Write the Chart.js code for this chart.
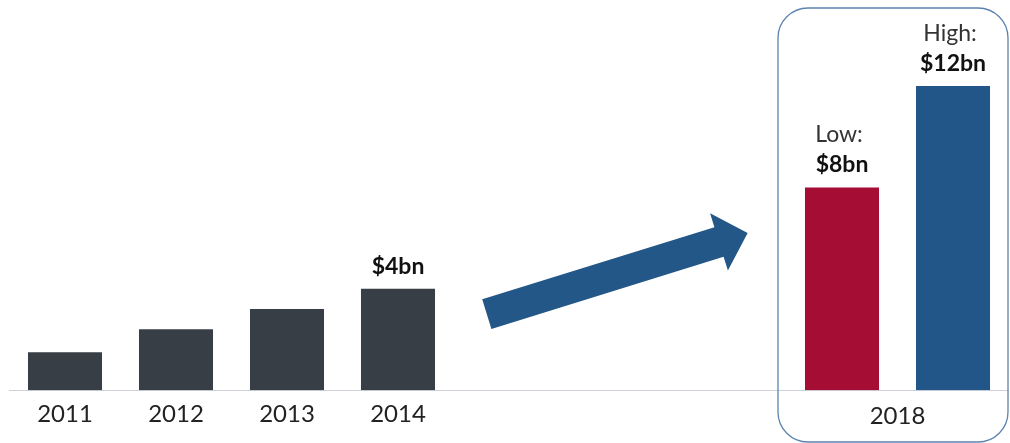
<!DOCTYPE html>
<html>
<head>
<meta charset="utf-8">
<script src="https://cdn.jsdelivr.net/npm/chart.js@4/dist/chart.umd.min.js"></script>
<style>
  html, body { margin: 0; padding: 0; background: #fff; }
  #wrap { width: 1010px; height: 443px; }
</style>
</head>
<body>
<div id="wrap"><canvas id="chart"></canvas></div>
<script>
// categories: 4 actual years, 3 empty slots for the gap, then the 2018 range
const categories = ['2011', '2012', '2013', '2014', '', '', '', 'Low', 'High'];
const revenue = [1.5, 2.4, 3.2, 4, null, null, null, 8, 12]; // $bn
const barColors = ['#373e45', '#373e45', '#373e45', '#373e45', null, null, null, '#a50d35', '#225688'];
const tickLabels = ['2011', '2012', '2013', '2014', '', '', '', '', ''];
const calloutTitles = ['', '', '', '', '', '', '', 'Low:', 'High:'];
const calloutValues = ['', '', '', '$4bn', '', '', '', '$8bn', '$12bn'];
const groupLabel = '2018';

const FONT = 'Lato, "Open Sans", sans-serif';

const decorations = {
  id: 'decorations',
  afterDraw(chart) {
    const ctx = chart.ctx;
    const x = chart.scales.x;
    const y = chart.scales.y;
    const meta = chart.getDatasetMeta(0);

    // growth arrow between 2014 and 2018
    const tx = x.getPixelForValue(3.8), ty = y.getPixelForValue(3.0);
    const hx = x.getPixelForValue(6.15), hy = y.getPixelForValue(6.2);
    const len = Math.hypot(hx - tx, hy - ty);
    const ang = Math.atan2(hy - ty, hx - tx);
    const hw = 15.5, headLen = 30, headHw = 30;
    ctx.save();
    ctx.translate(tx, ty);
    ctx.rotate(ang);
    ctx.fillStyle = '#235788';
    ctx.beginPath();
    ctx.moveTo(0, -hw);
    ctx.lineTo(len - headLen, -hw);
    ctx.lineTo(len - headLen, -headHw);
    ctx.lineTo(len, 0);
    ctx.lineTo(len - headLen, headHw);
    ctx.lineTo(len - headLen, hw);
    ctx.lineTo(0, hw);
    ctx.closePath();
    ctx.fill();
    ctx.restore();

    // rounded frame around 2018
    const bx0 = x.getPixelForValue(7) - 64;
    const bx1 = x.getPixelForValue(8) + 55;
    ctx.save();
    ctx.strokeStyle = '#5a84b0';
    ctx.lineWidth = 1.3;
    ctx.beginPath();
    ctx.roundRect(bx0, 8, bx1 - bx0, 434, 30);
    ctx.stroke();
    ctx.restore();

    // 2018 group label
    ctx.save();
    ctx.fillStyle = '#222';
    ctx.font = '24px ' + FONT;
    ctx.textAlign = 'center';
    ctx.textBaseline = 'alphabetic';
    const gx = (x.getPixelForValue(7) + x.getPixelForValue(8)) / 2;
    ctx.fillText(groupLabel, gx, y.getPixelForValue(0) + 34);

    // callouts above bars
    meta.data.forEach((bar, i) => {
      if (!calloutValues[i]) return;
      const base = bar.y - 15;
      ctx.fillStyle = '#111';
      ctx.font = 'bold 23px ' + FONT;
      ctx.fillText(calloutValues[i], bar.x, base);
      if (calloutTitles[i]) {
        ctx.fillStyle = '#333';
        ctx.font = '23px ' + FONT;
        ctx.fillText(calloutTitles[i], bar.x - 3, base - 30);
      }
    });
    ctx.restore();
  }
};

new Chart(document.getElementById('chart'), {
  type: 'bar',
  data: {
    labels: categories,
    datasets: [{
      data: revenue,
      backgroundColor: barColors,
      categoryPercentage: 1,
      barPercentage: 0.667
    }]
  },
  options: {
    responsive: true,
    maintainAspectRatio: false,
    animation: false,
    layout: { padding: { left: 9.5, right: 1.5, top: 10, bottom: 12 } },
    plugins: { legend: { display: false }, tooltip: { enabled: false } },
    scales: {
      x: {
        grid: { display: false },
        border: { display: true, color: '#cdd2da', width: 1 },
        ticks: {
          padding: 2,
          color: '#222',
          font: { family: FONT, size: 24 },
          maxRotation: 0,
          autoSkip: false,
          callback: (v, i) => tickLabels[i]
        }
      },
      y: { display: false, min: 0, max: 15 }
    }
  },
  plugins: [decorations]
});
</script>
</body>
</html>
